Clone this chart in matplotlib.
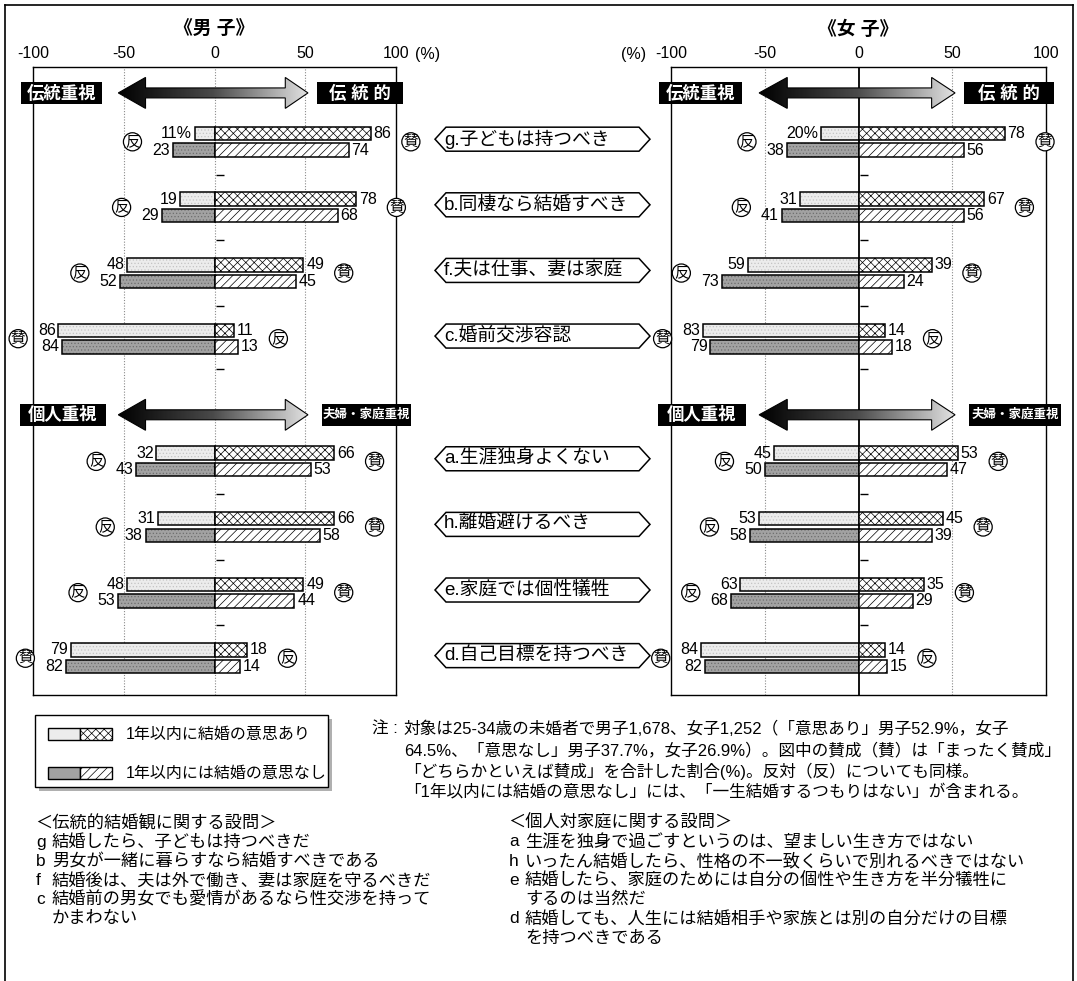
import numpy as np
import matplotlib.pyplot as plt
from matplotlib.patches import Polygon, Rectangle
from matplotlib.colors import LinearSegmentedColormap
from matplotlib import transforms

plt.rcParams['font.family'] = ['Liberation Sans', 'Noto Sans CJK JP', 'DejaVu Sans']
plt.rcParams['hatch.linewidth'] = 0.5

W, H = 1077, 981

# 設問 (上から順に)
item_labels = ['g.子どもは持つべき', 'b.同棲なら結婚すべき', 'f.夫は仕事、妻は家庭', 'c.婚前交渉容認',
               'a.生涯独身よくない', 'h.離婚避けるべき', 'e.家庭では個性犠牲', 'd.自己目標を持つべき']
# 右側が「賛」の設問なら True
agree_right = [True, True, True, False, True, True, True, False]

# 男子: 1年以内に結婚の意思あり / なし  (左側の値, 右側の値)
male_will_left = [11, 19, 48, 86, 32, 31, 48, 79]
male_will_right = [86, 78, 49, 11, 66, 66, 49, 18]
male_none_left = [23, 29, 52, 84, 43, 38, 53, 82]
male_none_right = [74, 68, 45, 13, 53, 58, 44, 14]

# 女子
female_will_left = [20, 31, 59, 83, 45, 53, 63, 84]
female_will_right = [78, 67, 39, 14, 53, 45, 35, 14]
female_none_left = [38, 41, 73, 79, 50, 58, 68, 82]
female_none_right = [56, 56, 24, 18, 47, 39, 29, 15]

xticks = [-100, -50, 0, 50, 100]

legend_labels = ['1年以内に結婚の意思あり', '1年以内には結婚の意思なし']

note_lines = ['対象は25-34歳の未婚者で男子1,678、女子1,252（「意思あり」男子52.9%，女子',
              '64.5%、「意思なし」男子37.7%，女子26.9%）。図中の賛成（賛）は「まったく賛成」',
              '「どちらかといえば賛成」を合計した割合(%)。反対（反）についても同様。',
              '「1年以内には結婚の意思なし」には、「一生結婚するつもりはない」が含まれる。']

trad_title = '＜伝統的結婚観に関する設問＞'
trad_lines = [('g', '結婚したら、子どもは持つべきだ'),
              ('b', '男女が一緒に暮らすなら結婚すべきである'),
              ('f', '結婚後は、夫は外で働き、妻は家庭を守るべきだ'),
              ('c', '結婚前の男女でも愛情があるなら性交渉を持って'),
              ('', 'かまわない')]
indiv_title = '＜個人対家庭に関する設問＞'
indiv_lines = [('a', '生涯を独身で過ごすというのは、望ましい生き方ではない'),
               ('h', 'いったん結婚したら、性格の不一致くらいで別れるべきではない'),
               ('e', '結婚したら、家庭のためには自分の個性や生き方を半分犠牲に'),
               ('', 'するのは当然だ'),
               ('d', '結婚しても、人生には結婚相手や家族とは別の自分だけの目標'),
               ('', 'を持つべきである')]

# レイアウト (縦は設問間隔を1とした単位)
ypos = np.array([0, 1, 2, 3, 4.87, 5.87, 6.87, 7.87])
Y_TOP, Y_BOT = -1.14, 8.43
header_y = [-0.745, 4.16]
tick_y = [0.5, 1.5, 2.5, 3.46, 5.37, 6.37, 7.37]
OFF, BH = 0.126, 0.205

LIGHT, DARK = '#ececec', '#a2a2a2'
arrow_cmap = LinearSegmentedColormap.from_list('arr', ['black', '#4a4a4a', '#e2e2e2'])

fig = plt.figure(figsize=(W / 100, H / 100), dpi=100)
ov = fig.add_axes([0, 0, 1, 1])
ov.set_xlim(0, W)
ov.set_ylim(H, 0)
ov.axis('off')


def px_axes(x0, x1, y0, y1):
    return fig.add_axes([x0 / W, 1 - y1 / H, (x1 - x0) / W, (y1 - y0) / H])


def draw_arrow(ax, yc):
    x0, x1, x2, x3 = -53, -38, 39, 51.5
    hh, sh = 0.236, 0.076
    pts = [(x0, yc), (x1, yc - hh), (x1, yc - sh), (x2, yc - sh), (x2, yc - hh), (x3, yc),
           (x2, yc + hh), (x2, yc + sh), (x1, yc + sh), (x1, yc + hh)]
    poly = Polygon(pts, closed=True, fc='none', ec='black', lw=0.8, zorder=5, clip_on=False)
    ax.add_patch(poly)
    grad = np.linspace(0, 1, 256).reshape(1, -1)
    im = ax.imshow(grad, extent=(x0, x3, yc + hh, yc - hh), aspect='auto', cmap=arrow_cmap,
                   zorder=4, interpolation='bilinear')
    im.set_clip_path(poly)


def black_label(ax, xa, xb, yc, text, fs):
    ax.add_patch(Rectangle((xa, yc - 0.167), xb - xa, 0.335, fc='black', ec='none',
                           zorder=6, clip_on=False))
    ax.text((xa + xb) / 2, yc, text, color='white', fontsize=fs, fontweight='bold',
            ha='center', va='center', zorder=7)


def draw_panel(ax, title, will_l, will_r, none_l, none_r, zero_solid):
    will_l, will_r = np.array(will_l), np.array(will_r)
    none_l, none_r = np.array(none_l), np.array(none_r)
    ax.set_facecolor('none')
    grid = dict(color='#8a8a8a', lw=0.8, ls=(0, (1, 1.5)), zorder=1)
    ax.axvline(-50, **grid)
    ax.axvline(50, **grid)
    if zero_solid:
        ax.axvline(0, color='black', lw=1.3, zorder=1)
    else:
        ax.axvline(0, **grid)
    ax.hlines(tick_y, 1, 5, color='black', lw=1, zorder=2)

    yu, yl = ypos - OFF, ypos + OFF
    # 左側 (網点)
    ax.barh(yu, -will_l, height=BH, color=LIGHT, lw=0, zorder=3)
    ax.barh(yu, -will_l, height=BH, color='none', edgecolor='#c4c4c4', hatch='.....', lw=0, zorder=3)
    ax.barh(yl, -none_l, height=BH, color=DARK, lw=0, zorder=3)
    ax.barh(yl, -none_l, height=BH, color='none', edgecolor='#6e6e6e', hatch='.....', lw=0, zorder=3)
    ax.barh(yu, -will_l, height=BH, color='none', edgecolor='black', lw=1.1, zorder=3)
    ax.barh(yl, -none_l, height=BH, color='none', edgecolor='black', lw=1.1, zorder=3)
    # 右側 (斜線)
    ax.barh(yu, will_r, height=BH, color='white', edgecolor='black', hatch='xxxx', lw=1.1, zorder=3)
    ax.barh(yl, none_r, height=BH, color='white', edgecolor='black', hatch='////', lw=1.1, zorder=3)

    vfs = 11.5
    circ = dict(boxstyle='circle,pad=0.12', fc='white', ec='black', lw=0.9)
    for i in range(len(ypos)):
        lab = f'{will_l[i]}%' if i == 0 else f'{will_l[i]}'
        ax.annotate(lab, xy=(-will_l[i], yu[i]), xytext=(-2, 0), textcoords='offset points',
                    ha='right', va='center', fontsize=vfs)
        ax.annotate(f'{none_l[i]}', xy=(-none_l[i], yl[i]), xytext=(-2, 0), textcoords='offset points',
                    ha='right', va='center', fontsize=vfs)
        ax.annotate(f'{will_r[i]}', xy=(will_r[i], yu[i]), xytext=(2, 0), textcoords='offset points',
                    ha='left', va='center', fontsize=vfs)
        ax.annotate(f'{none_r[i]}', xy=(none_r[i], yl[i]), xytext=(2, 0), textcoords='offset points',
                    ha='left', va='center', fontsize=vfs)
        left_c, right_c = ('反', '賛') if agree_right[i] else ('賛', '反')
        ax.annotate(left_c, xy=(-max(will_l[i], none_l[i]), ypos[i]), xytext=(-29, 0),
                    textcoords='offset points', ha='center', va='center', fontsize=10.5,
                    bbox=circ, zorder=6)
        ax.annotate(right_c, xy=(max(will_r[i], none_r[i]), ypos[i]), xytext=(29, 0),
                    textcoords='offset points', ha='center', va='center', fontsize=10.5,
                    bbox=circ, zorder=6)

    draw_arrow(ax, header_y[0])
    draw_arrow(ax, header_y[1])
    black_label(ax, -106.5, -62, header_y[0], '伝統重視', 12.5)
    black_label(ax, 56.5, 104, header_y[0], '伝 統 的', 12.5)
    black_label(ax, -107, -60, header_y[1], '個人重視', 12.5)
    black_label(ax, 59, 108, header_y[1], '夫婦・家庭重視', 9)

    ax.set_xlim(-100, 100)
    ax.set_ylim(Y_BOT, Y_TOP)
    ax.set_yticks([])
    ax.xaxis.tick_top()
    ax.set_xticks(xticks)
    ax.set_xticklabels([str(t) for t in xticks])
    ax.tick_params(axis='x', length=0, pad=4, labelsize=11.5)
    for s in ax.spines.values():
        s.set_linewidth(1.0)
    ax.annotate(title, xy=(0, 1), xycoords=('data', 'axes fraction'), xytext=(0, 27),
                textcoords='offset points', ha='center', va='center', fontsize=13.5,
                fontweight='bold')


axL = px_axes(33, 396, 67, 695)
axR = px_axes(671, 1046, 67, 695)
draw_panel(axL, '《男 子》', male_will_left, male_will_right, male_none_left, male_none_right, False)
draw_panel(axR, '《女 子》', female_will_left, female_will_right, female_none_left, female_none_right, True)

ov.text(428, 55, '(%)', fontsize=11.5, ha='center', va='center')
ov.text(634, 55, '(%)', fontsize=11.5, ha='center', va='center')

# 中央の設問ラベル
trans = transforms.blended_transform_factory(ov.transData, axL.transData)
for lab, y in zip(item_labels, ypos):
    yc, hh = y - 0.04, 0.183
    pts = [(435, yc), (446, yc - hh), (639, yc - hh), (650, yc), (639, yc + hh), (446, yc + hh)]
    ov.add_patch(Polygon(pts, closed=True, transform=trans, fc='white', ec='black', lw=1.1,
                         clip_on=False))
    ov.text(444, yc, lab, transform=trans, ha='left', va='center', fontsize=13.5)

# 外枠
ov.plot([5, 1073], [5, 5], color='black', lw=1.2)
ov.plot([5, 5], [5, H], color='black', lw=1.2)
ov.plot([1073, 1073], [5, H], color='black', lw=1.2)

# 凡例
ov.add_patch(Rectangle((39, 719), 293, 72, fc='#b0b0b0', ec='none'))
ov.add_patch(Rectangle((35, 715), 293, 72, fc='white', ec='black', lw=1))
for k, (yy, face, hat) in enumerate([(728, LIGHT, 'xxxx'), (767, DARK, '////')]):
    ov.add_patch(Rectangle((48, yy), 32, 12, fc=face, ec='black', lw=1))
    ov.add_patch(Rectangle((80, yy), 32, 12, fc='white', ec='black', hatch=hat, lw=1))
    ov.text(126, yy + 6, legend_labels[k], fontsize=11.5, ha='left', va='center')

# 注
ov.text(372, 729, '注 :', fontsize=12, ha='left', va='center')
for k, line in enumerate(note_lines):
    ov.text(404, 729 + k * 21, line, fontsize=12, ha='left', va='center')


# 設問の説明
def question_block(x0, title, lines):
    ov.text(x0, 823, title, fontsize=12.4, ha='left', va='center')
    for k, (key, txt) in enumerate(lines):
        y = 842 + k * 19.2
        if key:
            ov.text(x0 + 1, y, key, fontsize=12.4, ha='left', va='center')
        ov.text(x0 + 17, y, txt, fontsize=12.4, ha='left', va='center')


question_block(35, trad_title, trad_lines)
question_block(508, indiv_title, indiv_lines)

plt.savefig('out.png', dpi=100)
